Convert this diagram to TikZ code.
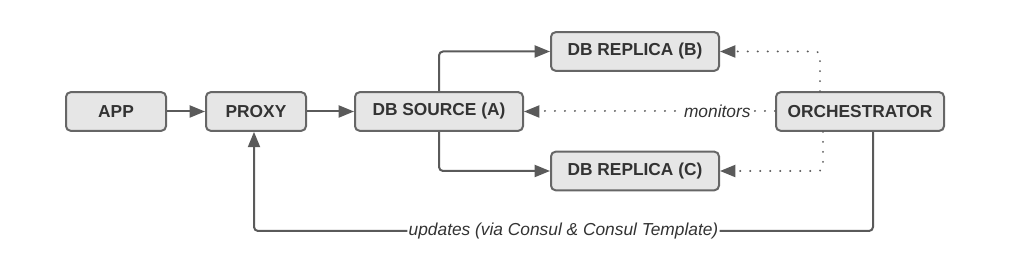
\documentclass[tikz,border=0pt]{standalone}
\usepackage{fontspec}
\setmainfont{Liberation Sans}
\usetikzlibrary{arrows.meta,calc}
\definecolor{boxfill}{HTML}{E6E6E6}
\definecolor{boxline}{HTML}{666666}
\definecolor{wire}{HTML}{5A5A5A}
\definecolor{txt}{HTML}{333333}
\begin{document}
\begin{tikzpicture}[x=0.75pt,y=-0.75pt,
  box/.style={draw=boxline,fill=boxfill,line width=1.5pt,rounded corners=3.5pt,
    minimum height=29pt,inner sep=0pt,text=txt,
    font=\fontsize{13}{15}\selectfont\bfseries},
  wbox/.style={box,minimum width=126pt},
  nbox/.style={box,minimum width=75pt},
  conn/.style={draw=wire,line width=1.5pt,rounded corners=3pt,
    -{Triangle[length=11.5pt,width=9pt]}},
  dotconn/.style={conn,line cap=round,dash pattern=on 0.1pt off 7.4pt},
  lbl/.style={fill=white,inner sep=1pt,text=txt,font=\fontsize{13}{15}\selectfont\itshape}]
\useasboundingbox (0,0) rectangle (1011,266);
\node[nbox] (app) at (116,111.5) {APP};
\node[nbox] (proxy) at (256,111.5) {PROXY};
\node[wbox] (src) at (439,111.5) {DB SOURCE (A)};
\node[wbox] (rb) at (635,51.5) {DB REPLICA (B)};
\node[wbox] (rc) at (635,171) {DB REPLICA (C)};
\node[wbox] (orch) at (860,111.5) {ORCHESTRATOR};
\draw[conn] (app) -- (proxy);
\draw[conn] (proxy) -- (src);
\draw[conn] (src.north) |- (rb.west);
\draw[conn] (src.south) |- (rc.west);
\draw[dotconn] (orch.west) -- node[lbl,pos=0.23] {monitors} (src.east);
\coordinate (ot) at ($(orch.north)+(-40,0)$);
\coordinate (ob) at ($(orch.south)+(-37,0)$);
\draw[dotconn] (ot) |- (rb.east);
\draw[dotconn] (ob) |- (rc.east);
\coordinate (os) at ($(orch.south)+(13,0)$);
\coordinate (ps) at ($(proxy.south)+(-2,0)$);
\coordinate (br) at (873,231);
\coordinate (bl) at (254,231);
\draw[conn] (os) -- (br) -- node[lbl] {updates (via Consul \& Consul Template)} (bl) -- (ps);
\end{tikzpicture}
\end{document}
